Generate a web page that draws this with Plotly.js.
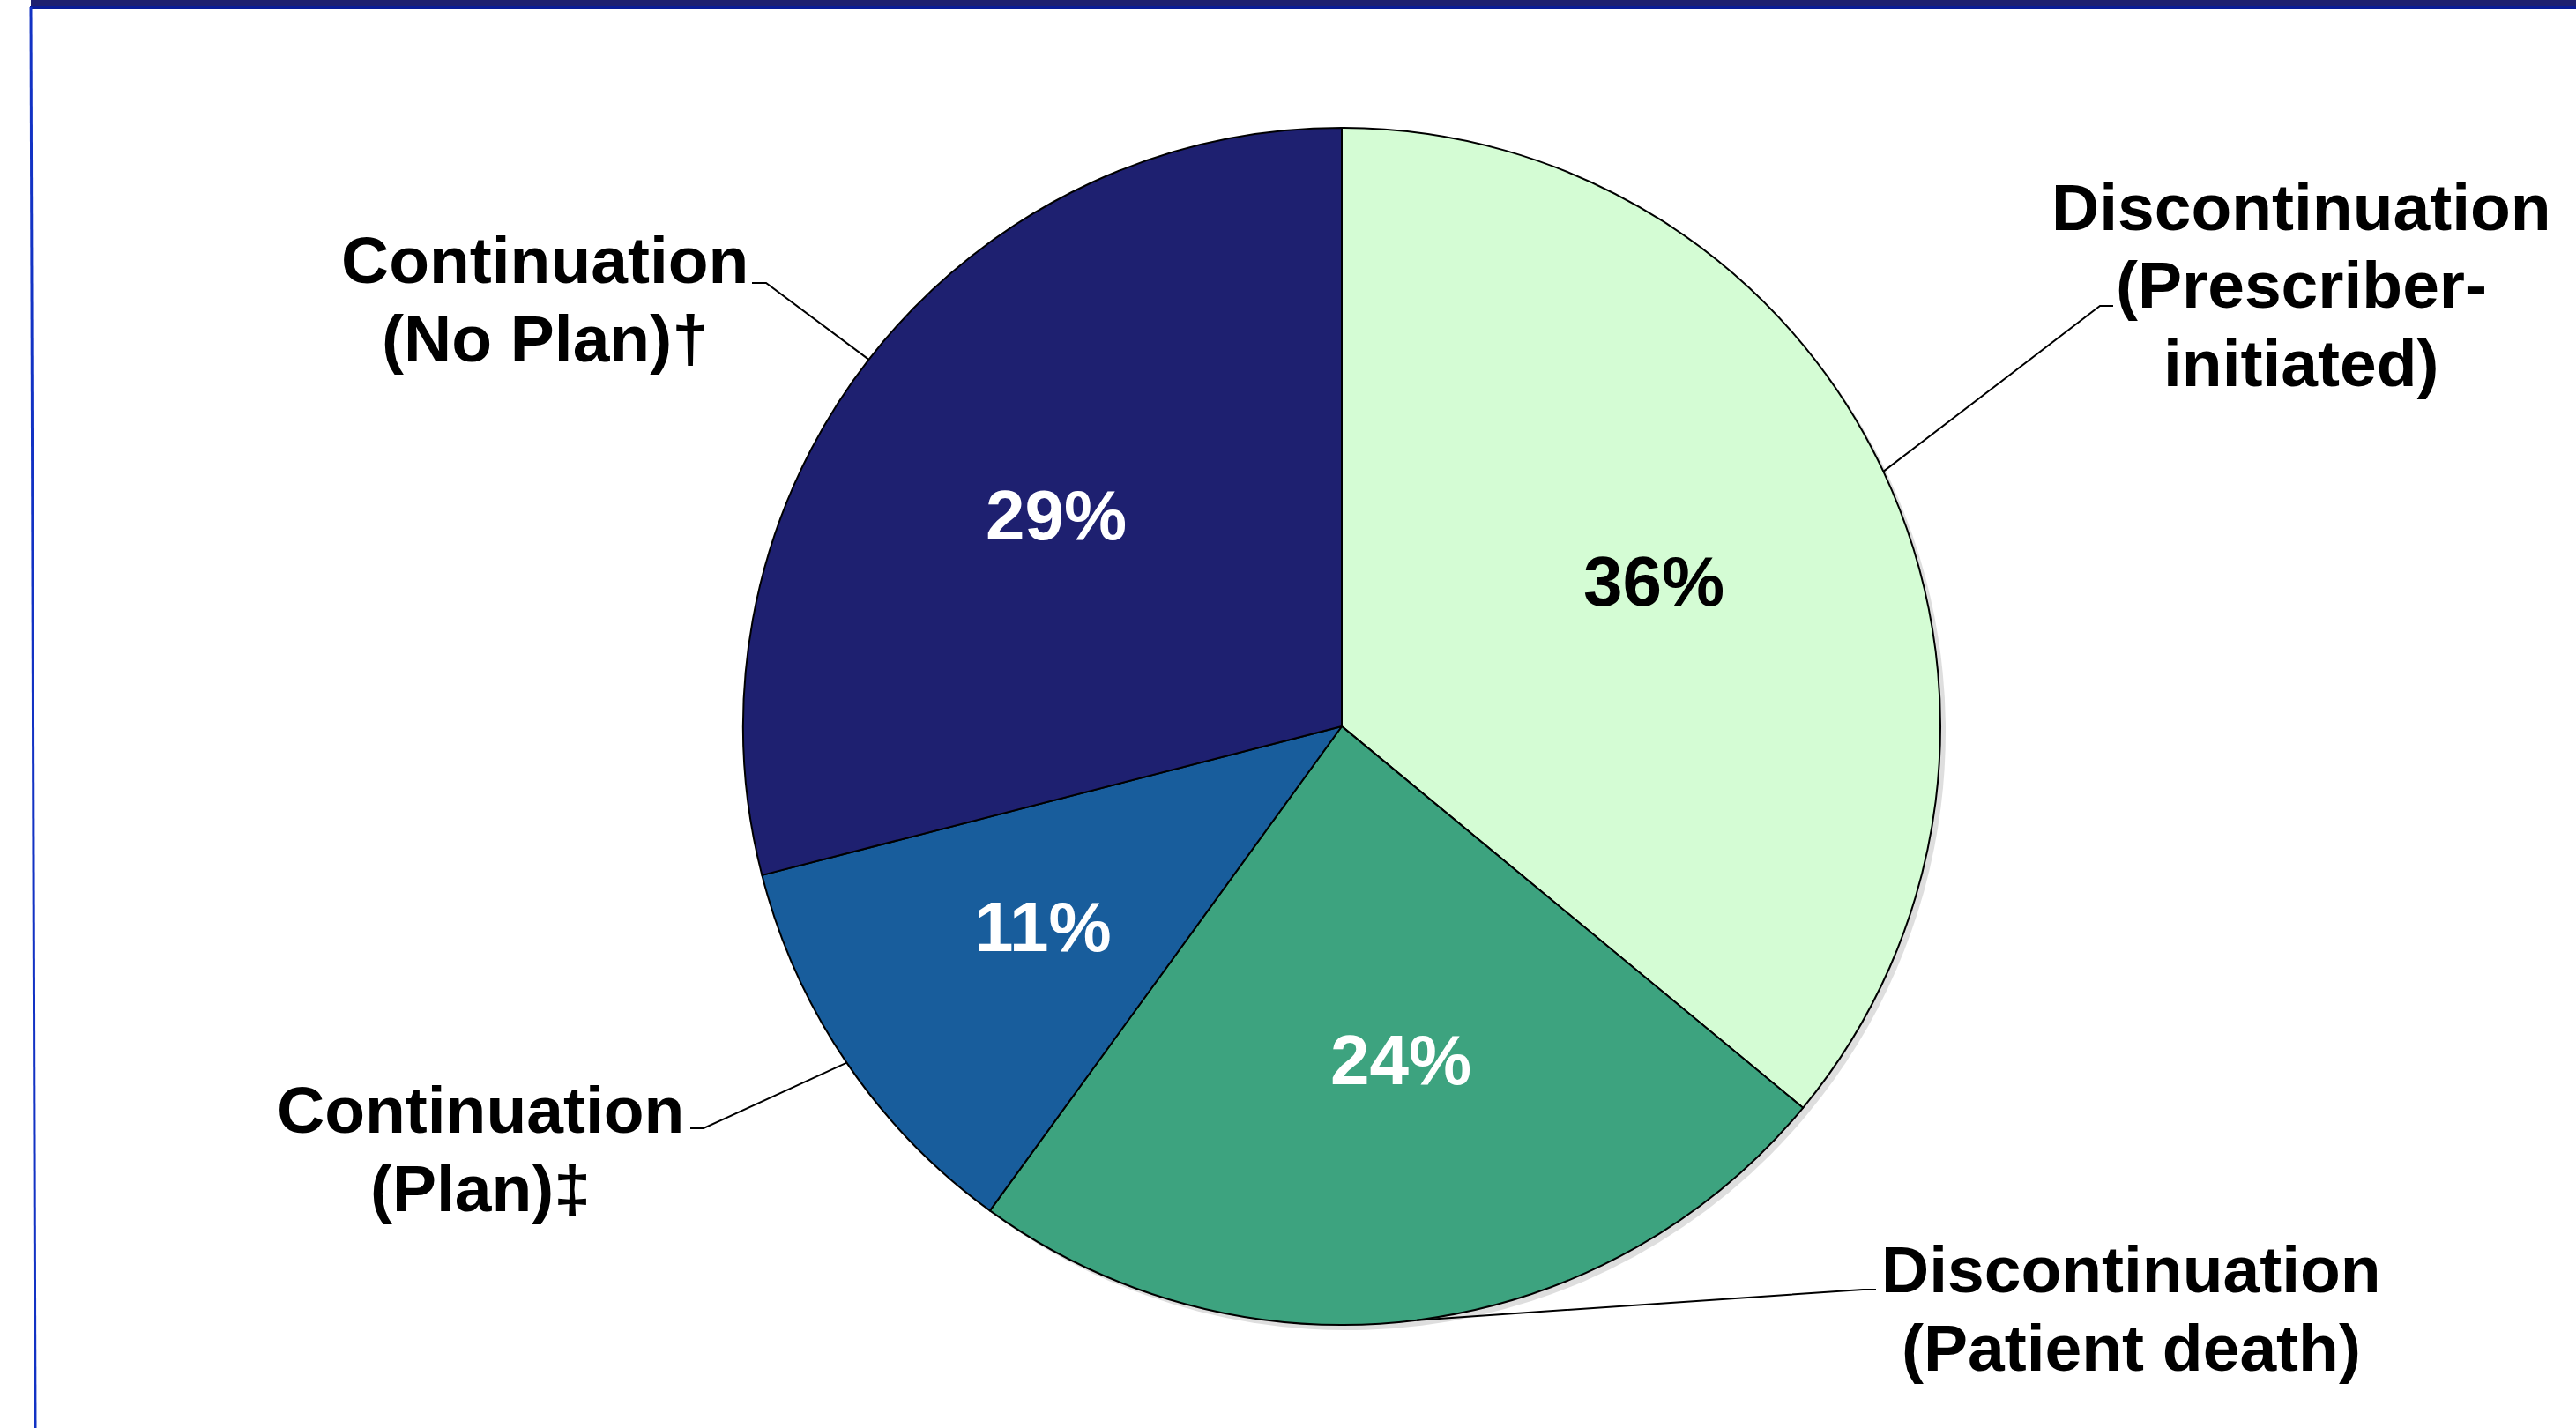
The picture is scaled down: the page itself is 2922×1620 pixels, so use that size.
<!DOCTYPE html>
<html>
<head>
<meta charset="utf-8">
<script src="https://cdn.plot.ly/plotly-3.0.1.min.js"></script>
<style>html,body{margin:0;padding:0;background:#fff;}#chart{width:2922px;height:1620px;}</style>
</head>
<body>
<div id="chart"></div>
<script>
// ---- data ----
const categories = [
  "Discontinuation<br>(Prescriber-<br>initiated)",
  "Discontinuation<br>(Patient death)",
  "Continuation<br>(Plan)‡",
  "Continuation<br>(No Plan)†"
];
const shares = [36, 24, 11, 29];
const sliceColors = ["#d4fcd4", "#3da37f", "#185d9c", "#1e2070"];
const pctColors = ["#000000", "#ffffff", "#ffffff", "#ffffff"];

// ---- layout geometry (pixels) ----
const W = 2922, H = 1620;
const px = x => x / W;
const py = y => 1 - y / H;
const pie = {left: 843, right: 2201, top: 145, bottom: 1503};
const cx = (pie.left + pie.right) / 2, cy = (pie.top + pie.bottom) / 2;
const R = (pie.right - pie.left) / 2;
const FONT = "Liberation Sans, Arial, sans-serif";
const labelSize = 75, pctSize = 80, lineGap = 88.5;
// percentage label placement: radius fraction and angle tweak (deg)
const pctPlace = [[0.573, 0.6], [0.57, -2.8], [0.603, 0], [0.59, -1.7]];
// label placement: text centre x, first-line cap centre y, leader bend and end points
const labelLayout = [
  {x: 2610, y: 237, bend: [2382, 347], end: [2397, 347]},
  {x: 2417, y: 1442, bend: [2113, 1463], end: [2128, 1463]},
  {x: 545, y: 1261, bend: [798, 1280], end: [783, 1280]},
  {x: 618, y: 297, bend: [869, 321], end: [853, 321]}
];

const total = shares.reduce((a, b) => a + b, 0);
const annotations = [];
const shapes = [];
let cum = 0;
shares.forEach((v, i) => {
  const mid = (cum + v / 2) / total * 2 * Math.PI;
  cum += v;
  // percentage label
  const rr = pctPlace[i][0] * R;
  const a = mid + pctPlace[i][1] * Math.PI / 180;
  annotations.push({
    xref: "paper", yref: "paper",
    x: px(cx + rr * Math.sin(a)), y: py(cy - rr * Math.cos(a) - 3),
    text: "<b>" + Math.round(v / total * 100) + "%</b>",
    showarrow: false, xanchor: "center", yanchor: "middle",
    font: {family: FONT, size: pctSize, color: pctColors[i]}
  });
  // outside category label
  const L = labelLayout[i];
  categories[i].split("<br>").forEach((line, k) => {
    annotations.push({
      xref: "paper", yref: "paper",
      x: px(L.x), y: py(L.y + k * lineGap - 2),
      text: "<b>" + line + "</b>",
      showarrow: false, xanchor: "center", yanchor: "middle",
      font: {family: FONT, size: labelSize, color: "#000000"}
    });
  });
  // leader line
  const ex = cx + R * Math.sin(mid), ey = cy - R * Math.cos(mid);
  shapes.push({
    type: "path", xref: "paper", yref: "paper",
    path: `M ${px(ex)} ${py(ey)} L ${px(L.bend[0])} ${py(L.bend[1])} L ${px(L.end[0])} ${py(L.end[1])}`,
    line: {color: "#000000", width: 2}
  });
});

// slide frame
shapes.push({type: "rect", xref: "paper", yref: "paper", x0: px(35), x1: 1, y0: py(7), y1: 1,
  fillcolor: "#1e2070", line: {width: 0}, layer: "below"});
shapes.push({type: "rect", xref: "paper", yref: "paper", x0: px(34), x1: 1, y0: py(10), y1: py(7),
  fillcolor: "#0a1c96", line: {width: 0}, layer: "below"});
shapes.push({type: "line", xref: "paper", yref: "paper", x0: px(35), y0: py(8), x1: px(40), y1: 0,
  line: {color: "#1232c4", width: 3}, layer: "below"});

const shadowOff = 6;
const data = [{
  type: "pie",
  values: shares,
  labels: categories,
  marker: {colors: shares.map(() => "rgba(0,0,0,0.13)"), line: {width: 0}},
  sort: false, direction: "clockwise", rotation: 0,
  textinfo: "none", hoverinfo: "skip", showlegend: false,
  domain: {x: [px(pie.left + shadowOff), px(pie.right + shadowOff)],
           y: [py(pie.bottom + shadowOff), py(pie.top + shadowOff)]}
}, {
  type: "pie",
  values: shares,
  labels: categories,
  marker: {colors: sliceColors, line: {color: "#000000", width: 2}},
  sort: false,
  direction: "clockwise",
  rotation: 0,
  textinfo: "none",
  hoverinfo: "label+percent",
  showlegend: false,
  domain: {x: [px(pie.left), px(pie.right)], y: [py(pie.bottom), py(pie.top)]}
}];

const layout = {
  width: W, height: H,
  margin: {l: 0, r: 0, t: 0, b: 0},
  paper_bgcolor: "#ffffff",
  showlegend: false,
  annotations: annotations,
  shapes: shapes
};

Plotly.newPlot("chart", data, layout, {displayModeBar: false, staticPlot: true});
</script>
</body>
</html>
